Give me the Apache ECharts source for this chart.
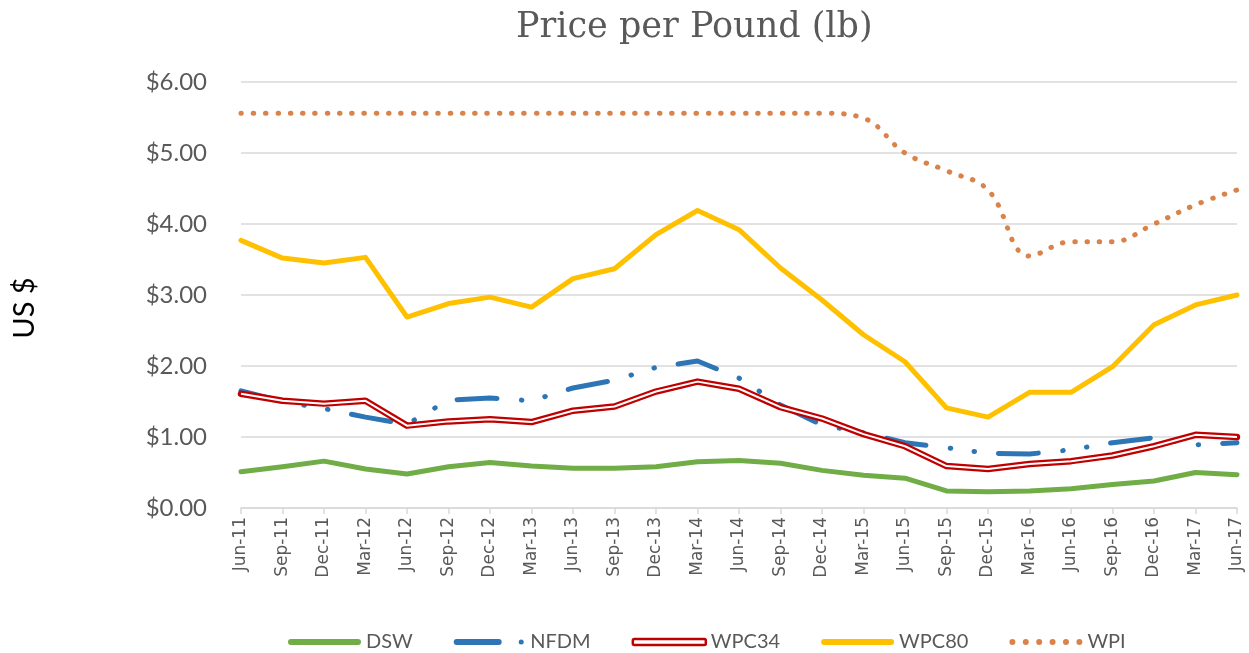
<!DOCTYPE html>
<html>
<head>
<meta charset="utf-8">
<title>Price per Pound (lb)</title>
<script src="https://cdn.jsdelivr.net/npm/echarts@6/dist/echarts.min.js"></script>
<style>
  html, body { margin: 0; padding: 0; background: #fff; }
  #chart { width: 1249px; height: 653px; }
</style>
</head>
<body>
<div id="chart"></div>
<script>
// categories and values
var quarters = ['Jun-11','Sep-11','Dec-11','Mar-12','Jun-12','Sep-12','Dec-12','Mar-13','Jun-13',
  'Sep-13','Dec-13','Mar-14','Jun-14','Sep-14','Dec-14','Mar-15','Jun-15','Sep-15','Dec-15',
  'Mar-16','Jun-16','Sep-16','Dec-16','Mar-17','Jun-17'];

var dsw   = [0.51,0.58,0.66,0.55,0.48,0.58,0.64,0.59,0.56,0.56,0.58,0.65,0.67,0.63,0.53,0.46,0.42,0.24,0.23,0.24,0.27,0.33,0.38,0.50,0.47];
var nfdm  = [1.65,1.50,1.40,1.28,1.18,1.52,1.55,1.51,1.69,1.80,1.98,2.07,1.83,1.45,1.17,1.06,0.92,0.85,0.77,0.76,0.82,0.92,0.99,0.89,0.92];
var wpc34 = [1.61,1.51,1.47,1.51,1.16,1.22,1.25,1.21,1.37,1.43,1.64,1.78,1.68,1.42,1.26,1.04,0.87,0.59,0.55,0.62,0.66,0.74,0.87,1.03,1.00];
var wpc80 = [3.77,3.52,3.45,3.53,2.69,2.88,2.97,2.83,3.23,3.37,3.85,4.19,3.92,3.38,2.93,2.44,2.06,1.41,1.28,1.63,1.63,1.99,2.58,2.86,3.00];
var wpi   = [5.56,5.56,5.56,5.56,5.56,5.56,5.56,5.56,5.56,5.56,5.56,5.56,5.56,5.56,5.56,5.49,5.00,4.75,4.48,3.55,3.75,3.75,4.00,4.27,4.48];

var yTicks = { min: 0, max: 6, step: 1 };

var grey = '#595959';
var gridGrey = '#d9d9d9';

// legend glyphs (73 x 6 boxes)
var barIcon = 'path://M3,0L70,0A3,3 0 0 1 70,6L3,6A3,3 0 0 1 3,0Z';
var dashDotIcon = 'path://M3,0L45,0A3,3 0 0 1 45,6L3,6A3,3 0 0 1 3,0Z' +
  'M65,3A2.5,2.5 0 1 1 70,3A2.5,2.5 0 1 1 65,3Z';
var dotsIcon = 'path://';
for (var i = 0; i < 6; i++) {
  var c = 3 + i * 13.4;
  dotsIcon += 'M' + (c - 3) + ',3A3,3 0 1 1 ' + (c + 3) + ',3A3,3 0 1 1 ' + (c - 3) + ',3Z';
}

var myChart = echarts.init(document.getElementById('chart'));

myChart.setOption({
  animation: false,
  title: {
    text: 'Price per Pound (lb)',
    left: 511,
    top: 5,
    textStyle: { fontFamily: 'DejaVu Serif', fontSize: 35, fontWeight: 'normal', color: grey }
  },
  legend: {
    left: 283,
    top: 627,
    itemWidth: 73,
    itemHeight: 6,
    itemGap: 41,
    textStyle: { fontFamily: 'Lato', fontSize: 20, color: grey },
    data: [
      { name: 'DSW', icon: barIcon },
      { name: 'NFDM', icon: dashDotIcon },
      { name: 'WPC34', icon: 'roundRect',
        itemStyle: { color: '#ffffff', borderColor: '#c00000', borderWidth: 2.5 } },
      { name: 'WPC80', icon: barIcon },
      { name: 'WPI', icon: dotsIcon }
    ]
  },
  grid: {
    left: 241, right: 12, top: 82, bottom: 145,
    containLabel: false,
    outerBoundsMode: 'none'
  },
  xAxis: {
    type: 'category',
    data: quarters,
    boundaryGap: false,
    axisLine: { lineStyle: { color: gridGrey, width: 1.5 } },
    axisTick: { show: true, length: 6, lineStyle: { color: gridGrey, width: 1.5 } },
    axisLabel: {
      interval: 0, rotate: 90, margin: 9,
      fontFamily: 'DejaVu Sans', fontSize: 17, color: grey
    }
  },
  yAxis: {
    type: 'value',
    min: yTicks.min, max: yTicks.max, interval: yTicks.step,
    name: 'US $',
    nameLocation: 'middle',
    nameGap: 202,
    nameTextStyle: { fontFamily: 'Lato', fontSize: 29, color: '#000', padding: [0, 26, 0, 0] },
    axisLine: { show: false },
    axisTick: { show: false },
    splitLine: { lineStyle: { color: gridGrey, width: 1.5 } },
    axisLabel: {
      margin: 34,
      fontFamily: 'Lato', fontSize: 24, color: grey,
      formatter: function (v) { return '$' + v.toFixed(2); }
    }
  },
  series: [
    {
      name: 'DSW', type: 'line', data: dsw, symbol: 'none',
      lineStyle: { color: '#70ad47', width: 5, cap: 'round', join: 'round' },
      itemStyle: { color: '#70ad47' }
    },
    {
      name: 'NFDM', type: 'line', data: nfdm, symbol: 'none',
      lineStyle: { color: '#2e75b6', width: 5, cap: 'round', join: 'round', type: [40, 24.5, 0.5, 23.5, 0.5, 24] },
      itemStyle: { color: '#2e75b6' }
    },
    {
      name: 'WPC34', type: 'line', data: wpc34, symbol: 'none',
      lineStyle: { color: '#c00000', width: 6.5, cap: 'round', join: 'round' },
      itemStyle: { color: '#c00000' }
    },
    {
      // white core of the double line
      name: 'WPC34', type: 'line', data: wpc34, symbol: 'none',
      lineStyle: { color: '#ffffff', width: 2, cap: 'butt', join: 'round' },
      itemStyle: { color: '#ffffff' }
    },
    {
      name: 'WPC80', type: 'line', data: wpc80, symbol: 'none',
      lineStyle: { color: '#ffc000', width: 5, cap: 'round', join: 'round' },
      itemStyle: { color: '#ffc000' }
    },
    {
      name: 'WPI', type: 'line', data: wpi, symbol: 'none', smooth: 0.4,
      lineStyle: { color: '#d9834a', width: 5, cap: 'round', type: [0.5, 11.8] },
      itemStyle: { color: '#d9834a' }
    }
  ]
});
</script>
</body>
</html>
